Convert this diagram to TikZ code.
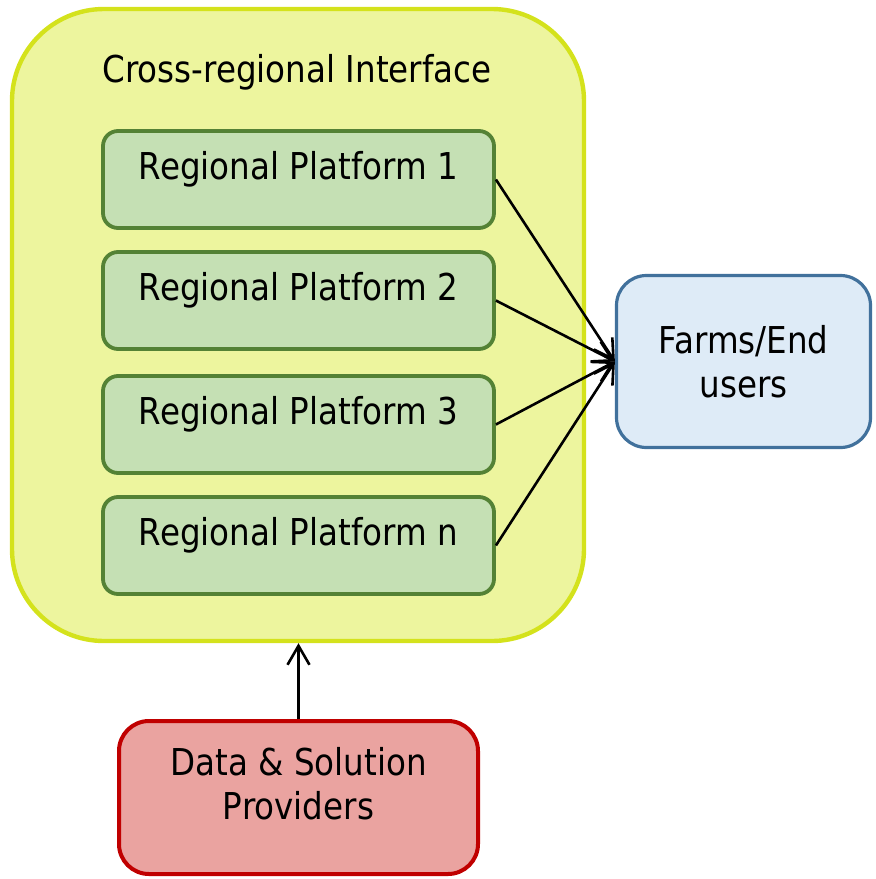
\documentclass[tikz,border=0pt]{standalone}
\usepackage{fontspec}
\setmainfont{DejaVu Sans}[FakeStretch=0.88]
\usetikzlibrary{arrows.meta}
\definecolor{ifacefill}{RGB}{237,245,158}
\definecolor{ifaceline}{RGB}{212,226,28}
\definecolor{platfill}{RGB}{197,224,180}
\definecolor{platline}{RGB}{84,130,53}
\definecolor{userfill}{RGB}{222,235,247}
\definecolor{userline}{RGB}{65,113,156}
\definecolor{srcfill}{RGB}{234,163,160}
\definecolor{srcline}{RGB}{192,0,0}
\tikzset{flow/.style = {-{Straight Barb[length=9.5pt,width=11pt]}, line width = 1.3pt}}
\tikzset{platbox/.style = {draw = platline, fill = platfill, line width = 1.9pt, rounded corners = 7.5pt,
                           minimum width = 195.5pt, inner ysep = 0, text height = 24.25pt, text depth = 24.25pt}}
\tikzset{endbox/.style = {line width = 1.6pt, rounded corners = 15pt, align = center}}

\begin{document}
\begin{tikzpicture}[x = 0.5pt, y = -0.5pt, font = \fontsize{18.5}{22}\selectfont]
    \useasboundingbox (0,0) rectangle (876,879);
    \node [draw = ifaceline, fill = ifacefill, line width = 2.2pt, rounded corners = 46pt,
           minimum width = 286pt, minimum height = 316pt] (iface) at (298,325) {};
    \node [anchor = base] (title) at (297,82) {Cross-regional Interface};
    \node [platbox] (rp1) at (298.5,179.5) {Regional Platform 1};
    \node [platbox] (rp2) at (298.5,300.5) {Regional Platform 2};
    \node [platbox] (rp3) at (298.5,424.5) {Regional Platform 3};
    \node [platbox] (rpn) at (298.5,545.5) {Regional Platform n};
    \node [endbox, draw = userline, fill = userfill, minimum width = 127pt, minimum height = 86pt] (users)
          at (743.5,361.5) {Farms/End\\users};
    \node [endbox, draw = srcline, fill = srcfill, line width = 2pt, minimum width = 179.5pt, minimum height = 76.5pt] (src)
          at (298.5,797.5) {};
    \node [align = center] (srctext) at (298.5,784) {Data \& Solution\\Providers};
    \foreach \p in {rp1, rp2, rp3, rpn}
        \draw [flow] (\p.east) -- (users.west);
    \draw [flow] (src.north) -- (src.north |- iface.south);
\end{tikzpicture}
\end{document}
